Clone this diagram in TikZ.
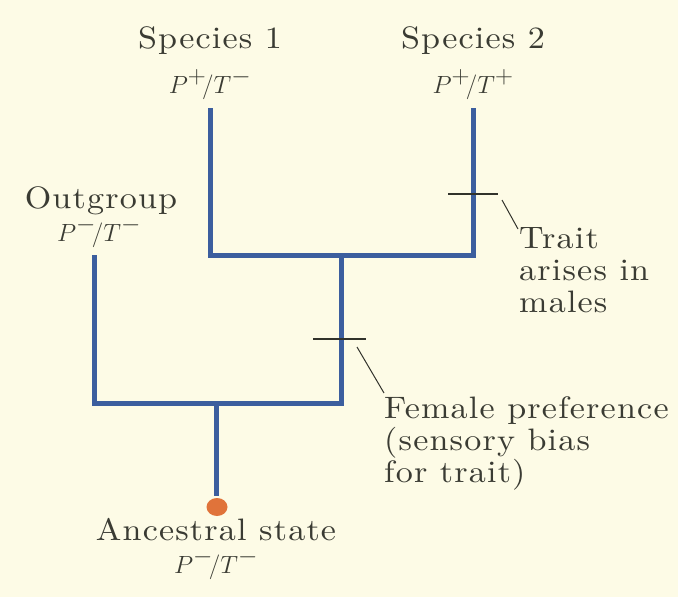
\documentclass[tikz,border=0pt]{standalone}
\usepackage{fontspec}
\setmainfont{lmroman10-regular.otf}[FakeStretch=1.1, LetterSpace=3.8, ItalicFont=lmroman10-italic.otf, BoldFont=lmroman10-bold.otf]
\definecolor{bgcream}{HTML}{FDFBE6}
\definecolor{treeblue}{HTML}{3C5E9E}
\definecolor{inkgrey}{HTML}{3A3B33}
\definecolor{dotorange}{HTML}{E0733A}
\tikzset{
  lbl/.style={text=inkgrey, inner sep=0pt, font=\fontsize{31}{32}\selectfont},
  mlbl/.style={text=inkgrey, inner sep=0pt, font=\fontsize{37}{38}\selectfont},
  branch/.style={draw=treeblue, line width=5pt, line cap=butt, line join=miter},
  tickmark/.style={draw=inkgrey!85!black, line width=1.2pt},
  leader/.style={draw=inkgrey!85!black, line width=1pt},
}
\begin{document}
\begin{tikzpicture}[x=1pt,y=-1pt]
\fill[bgcream] (0,0) rectangle (678,597);
\useasboundingbox (0,0) rectangle (678,597);

% tree coordinates
\coordinate (s1top) at (210,108);
\coordinate (s1bot) at (210,255);
\coordinate (s2top) at (473,108);
\coordinate (s2bot) at (473,255);
\coordinate (mid) at (341,255);
\coordinate (midbot) at (341,403);
\coordinate (ogtop) at (94,255);
\coordinate (ogbot) at (94,403);
\coordinate (rootj) at (216,403);
\coordinate (rootend) at (216,496);

% labels
\node[lbl, anchor=base] (sp1) at (210,48) {Species 1};
\node[mlbl, anchor=base] (sp1s) at (210,93) {$P^{+}\!/T^{-}$};
\node[lbl, anchor=base] (sp2) at (473,48) {Species 2};
\node[mlbl, anchor=base] (sp2s) at (473,93) {$P^{+}\!/T^{+}$};
\node[lbl, anchor=base] (og) at (101,208) {Outgroup};
\node[mlbl, anchor=base] (ogs) at (99,241) {$P^{-}\!/T^{-}$};
\node[lbl, anchor=base] (anc) at (216,540) {Ancestral state};
\node[mlbl, anchor=base] (ancs) at (216,573) {$P^{-}\!/T^{-}$};
\node[lbl, anchor=north west, align=left] (trait) at (519,227) {Trait\\arises in\\males};
\node[lbl, anchor=north west, align=left] (fem) at (384,396) {Female preference\\(sensory bias\\for trait)};

% branches
\draw[branch] (s1top) -- (s1bot) -- (s2bot) -- (s2top);
\draw[branch] (mid) -- (midbot) -- (ogbot) -- (ogtop);
\draw[branch] (rootj) -- (rootend);

% dot
\fill[dotorange] (217,507) ellipse [x radius=10.5pt, y radius=9pt];
\node[inner sep=0pt] (dot) at (217,507) {};

% tick marks
\coordinate (t1a) at (448,194);
\coordinate (t1b) at (498,194);
\draw[tickmark] (t1a) -- (t1b);
\coordinate (t2a) at (313,339);
\coordinate (t2b) at (366,339);
\draw[tickmark] (t2a) -- (t2b);

% leaders
\coordinate (l1a) at (502,200);
\coordinate (l1b) at (518,229);
\draw[leader] (l1a) -- (l1b);
\coordinate (l2a) at (357,347);
\coordinate (l2b) at (384,393);
\draw[leader] (l2a) -- (l2b);
\end{tikzpicture}
\end{document}
